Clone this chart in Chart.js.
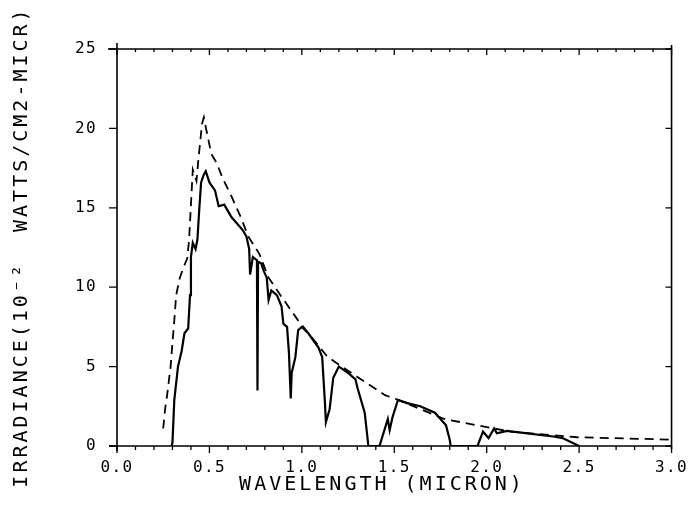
<!DOCTYPE html>
<html><head><meta charset="utf-8">
<script src="https://cdn.jsdelivr.net/npm/chart.js@4.4.0/dist/chart.umd.min.js"></script>
<style>html,body{margin:0;padding:0;background:#fff;}#wrap{width:698px;height:508px;}</style>
</head><body><div id="wrap"><canvas id="c" width="698" height="508"></canvas></div>
<script>
// Solid curve: irradiance at the surface
const solidWavelength = [0.295,0.30,0.31,0.33,0.35,0.365,0.385,0.395,0.40,0.41,0.425,0.435,0.445,0.455,0.47,0.48,0.50,0.53,0.55,0.58,0.62,0.68,0.70,0.715,0.72,0.735,0.757,0.760,0.763,0.78,0.795,0.81,0.82,0.835,0.865,0.89,0.90,0.92,0.93,0.94,0.945,0.965,0.98,1.0,1.035,1.09,1.11,1.125,1.13,1.15,1.17,1.20,1.25,1.29,1.30,1.34,1.36,1.42,1.465,1.475,1.49,1.52,1.57,1.64,1.72,1.78,1.80,1.805,1.95,1.98,2.01,2.04,2.055,2.11,2.22,2.36,2.41,2.50];
const solidIrradiance = [0,0.2,2.9,5.0,6.0,7.1,7.4,9.5,11.9,12.8,12.4,13.0,14.9,16.6,17.1,17.3,16.6,16.1,15.1,15.2,14.4,13.6,13.2,12.4,10.8,11.9,11.7,3.5,11.6,11.5,11.0,10.6,9.2,9.8,9.5,8.8,7.7,7.5,5.9,3.0,4.6,5.6,7.3,7.5,7.1,6.2,5.6,2.7,1.5,2.3,4.3,5.0,4.6,4.2,3.7,2.1,0,0,1.7,1.0,1.8,2.9,2.7,2.5,2.1,1.3,0.4,0,0,0.9,0.5,1.1,0.8,0.95,0.8,0.6,0.5,0];
// Dashed curve: extraterrestrial irradiance
const dashedWavelength = [0.25,0.26,0.27,0.29,0.30,0.31,0.32,0.34,0.365,0.38,0.39,0.41,0.43,0.44,0.46,0.47,0.48,0.51,0.54,0.57,0.62,0.67,0.71,0.77,0.82,0.89,0.98,1.14,1.30,1.45,1.50,1.77,2.13,2.49,3.0];
const dashedIrradiance = [1.1,2.3,3.1,5.0,6.5,7.9,9.5,10.6,11.4,11.8,13.0,17.4,16.7,18.0,20.3,20.7,20.1,18.4,17.8,16.9,15.7,14.4,13.2,12.1,10.6,9.4,7.9,5.6,4.35,3.2,3.0,1.7,0.9,0.55,0.4];
const xTickLabels = ['0.0','0.5','1.0','1.5','2.0','2.5','3.0'];
const yTickLabels = ['0','5','10','15','20','25'];
const xTitle = 'WAVELENGTH (MICRON)';
const yTitle = 'IRRADIANCE(10\u207B\u00B2  WATTS/CM2-MICR)';

const FONT = '"DejaVu Sans Mono", "Liberation Mono", monospace';

const toPts = (xs, ys) => xs.map((x, i) => ({x, y: ys[i]}));

const framePlugin = {
  id: 'frame',
  beforeDraw(chart) { chart.ctx.letterSpacing = '1.4px'; },
  afterDraw(chart) {
    const ctx = chart.ctx, a = chart.chartArea, xs = chart.scales.x, ys = chart.scales.y;
    ctx.save();
    ctx.strokeStyle = '#000';
    ctx.lineWidth = 1.6;
    ctx.beginPath();
    ctx.moveTo(a.left, a.top - 6); ctx.lineTo(a.left, a.bottom + 5);
    ctx.moveTo(a.left - 9, a.top); ctx.lineTo(a.right, a.top);
    ctx.moveTo(a.right, a.top - 4); ctx.lineTo(a.right, a.bottom + 3);
    ctx.moveTo(a.left - 8, a.bottom); ctx.lineTo(a.right, a.bottom);
    ctx.stroke();
    ctx.lineWidth = 1.3;
    ctx.beginPath();
    for (let i = 0; i <= 30; i++) {
      const px = xs.getPixelForValue(i / 10);
      const major = i % 5 === 0;
      ctx.moveTo(px, a.bottom); ctx.lineTo(px, a.bottom + (major ? 7 : 4));
      ctx.moveTo(px, a.top); ctx.lineTo(px, a.top + (major ? 6 : 3));
    }
    for (let v = 0; v <= 25; v += 5) {
      const py = ys.getPixelForValue(v);
      ctx.moveTo(a.left - 8, py); ctx.lineTo(a.left, py);
      ctx.moveTo(a.right, py); ctx.lineTo(a.right - 6, py);
    }
    ctx.stroke();
    // titles
    ctx.fillStyle = '#000';
    ctx.font = '20px ' + FONT;
    ctx.letterSpacing = '3px';
    ctx.textAlign = 'center';
    ctx.textBaseline = 'middle';
    ctx.fillText(xTitle, 382, 485);
    ctx.translate(22, 247);
    ctx.rotate(-Math.PI / 2);
    ctx.fillText(yTitle, 0, 0);
    ctx.restore();
  }
};

new Chart(document.getElementById('c'), {
  type: 'line',
  data: {
    datasets: [
      { data: toPts(solidWavelength, solidIrradiance), borderColor: '#000', borderWidth: 2.2, pointRadius: 0, tension: 0, fill: false },
      { data: toPts(dashedWavelength, dashedIrradiance), borderColor: '#000', borderWidth: 1.8, borderDash: [9, 6], pointRadius: 0, tension: 0, fill: false }
    ]
  },
  options: {
    responsive: false,
    animation: false,
    devicePixelRatio: 1,
    layout: { padding: { top: 49, right: 22, left: 0, bottom: 0 } },
    plugins: { legend: { display: false }, tooltip: { enabled: false } },
    scales: {
      x: {
        type: 'linear', min: 0, max: 3,
        grid: { display: false, drawTicks: false },
        border: { display: false },
        ticks: { stepSize: 0.5, padding: 12, color: '#000', font: { family: FONT, size: 16 }, maxRotation: 0,
          callback: (v) => xTickLabels[Math.round(v * 2)] },
        afterFit: (s) => { s.height = 62; }
      },
      y: {
        type: 'linear', min: 0, max: 25,
        grid: { display: false, drawTicks: false },
        border: { display: false },
        ticks: { stepSize: 5, padding: 20, color: '#000', font: { family: FONT, size: 16 },
          callback: (v) => yTickLabels[Math.round(v / 5)] },
        afterFit: (s) => { s.width = 117; }
      }
    }
  },
  plugins: [framePlugin]
});
</script>
</body></html>
